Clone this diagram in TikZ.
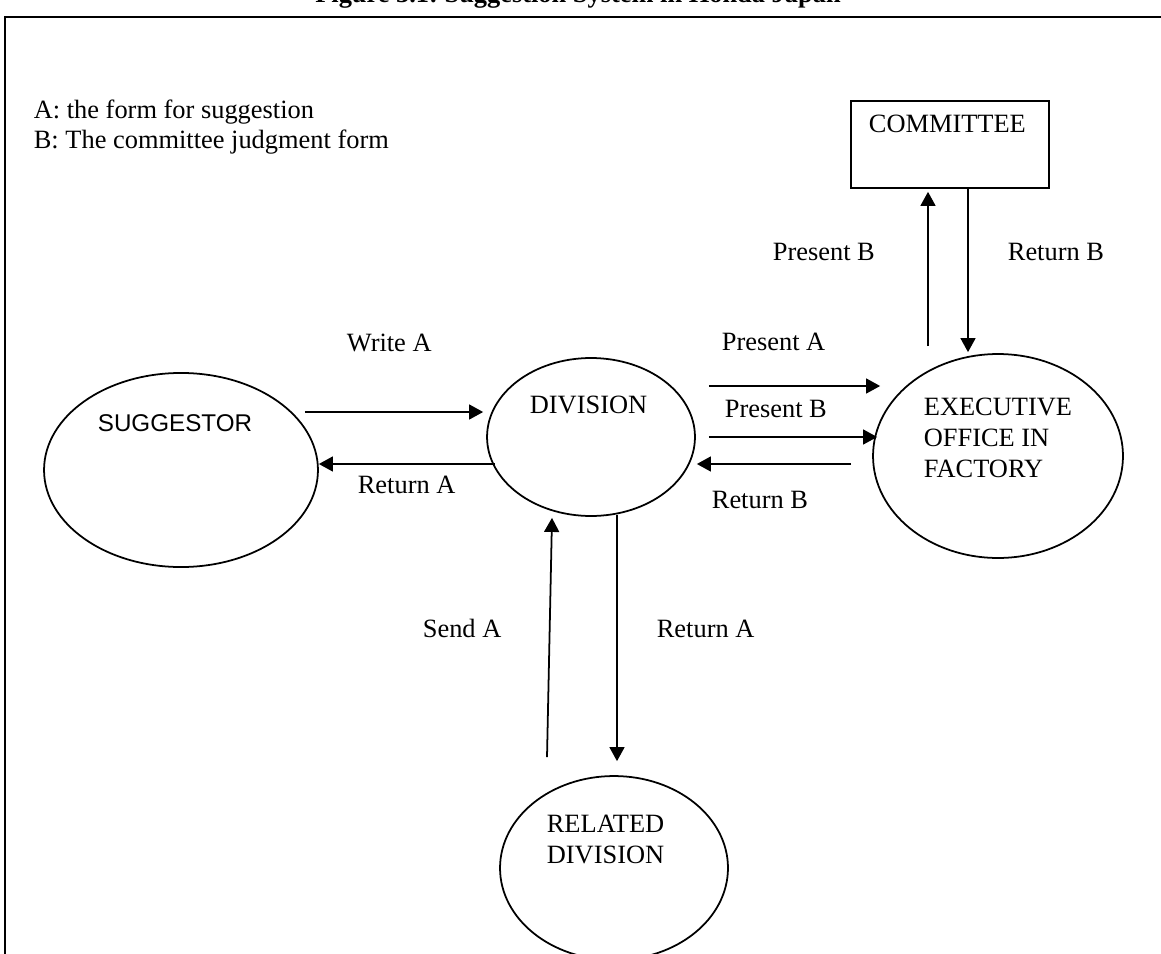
\documentclass[tikz,border=0pt]{standalone}
\usepackage{fontspec}
\setmainfont{Liberation Serif}
\newfontfamily\arialfont{Liberation Sans}
\usetikzlibrary{arrows.meta, calc, shapes.geometric}

\begin{document}
\begin{tikzpicture}[x=0.4545pt, y=-0.4545pt, line width=0.8pt,
    >={Triangle[length=6.4pt, width=6.8pt]},
    state/.style={draw, ellipse, inner sep=0pt},
    lbl/.style={anchor=base west, inner sep=0pt, align=left, font=\fontsize{12}{14}\selectfont},
    flow/.style={->}]

    % --- Page and frame ---
    \useasboundingbox (0,0) rectangle (1161,954);
    \clip (0,0) rectangle (1161,954);
    \node[anchor=base, inner sep=0pt, font=\fontsize{12}{14}\selectfont\bfseries] (title) at (578,3)
        {Figure 3.1:\ Suggestion System in\ Honda Japan};
    \draw[line width=1.2pt] (1200,17) -- (5,17) -- (5,1000);

    % --- Legend ---
    \node[lbl] (keyA) at (33,119) {A: the form for suggestion};
    \node[lbl] (keyB) at (33,149) {B: The committee judgment form};

    % --- Units ---
    \node[state, minimum width=124.5pt, minimum height=88.2pt] (sug) at (181,470) {};
    \node[state, minimum width=94.5pt, minimum height=71.8pt] (div) at (591,437) {};
    \node[state, minimum width=113.6pt, minimum height=92.7pt] (exec) at (998,456) {};
    \node[state, minimum width=103.6pt, minimum height=83.6pt] (rel) at (614,868) {};
    \node[draw, rectangle, minimum width=90pt, minimum height=39.5pt] (comm) at (950,144.5) {};

    % texts inside the units (base = last line)
    \node[lbl, font=\fontsize{11}{13}\selectfont\arialfont] (sugtxt) at (97,431) {SUGGESTOR};
    \node[lbl] (divtxt) at (529,413) {DIVISION};
    \node[lbl] (exectxt) at (923,477) {EXECUTIVE\\OFFICE IN\\FACTORY};
    \node[lbl] (reltxt) at (546,863) {RELATED\\DIVISION};
    \node[lbl] (commtxt) at (868,133) {COMMITTEE};

    % --- Flows ---
    \draw[flow] ($(sug.east)+(-14,-58)$) -- ($(div.west)+(-3,-25)$);
    \draw[flow] ($(div.west)+(9,27)$) -- ($(sug.east)+(0,-6)$);
    \draw[flow] ($(div.east)+(13,-51)$) -- ($(exec.west)+(8,-70)$);
    \draw[flow] ($(div.east)+(13,0)$) -- ($(exec.west)+(5,-19)$);
    \draw[flow] ($(exec.west)+(-21,8)$) -- ($(div.east)+(1,27)$);
    \draw[flow] ($(exec.north)+(-70,-7)$) -- ($(comm.south)+(-22,3)$);
    \draw[flow] ($(comm.south)+(18,0)$) -- ($(exec.north)+(-30,-1)$);
    \draw[flow] ($(rel.north)+(-67,-18)$) -- ($(div.south)+(-39,1)$);
    \draw[flow] ($(div.south)+(26,-2)$) -- ($(rel.north)+(3,-14)$);

    % --- Flow labels ---
    \node[lbl] (lwrite) at (346,351) {Write A};
    \node[lbl] (lretA) at (357,493) {Return A};
    \node[lbl] (lpresA) at (721,350) {Present A};
    \node[lbl] (lpresB) at (724,417) {Present B};
    \node[lbl] (lretB) at (711,508) {Return B};
    \node[lbl] (lupB) at (772,260) {Present B};
    \node[lbl] (ldownB) at (1007,260) {Return B};
    \node[lbl] (lsend) at (422,637) {Send A};
    \node[lbl] (lretA2) at (656,637) {Return A};

\end{tikzpicture}
\end{document}
